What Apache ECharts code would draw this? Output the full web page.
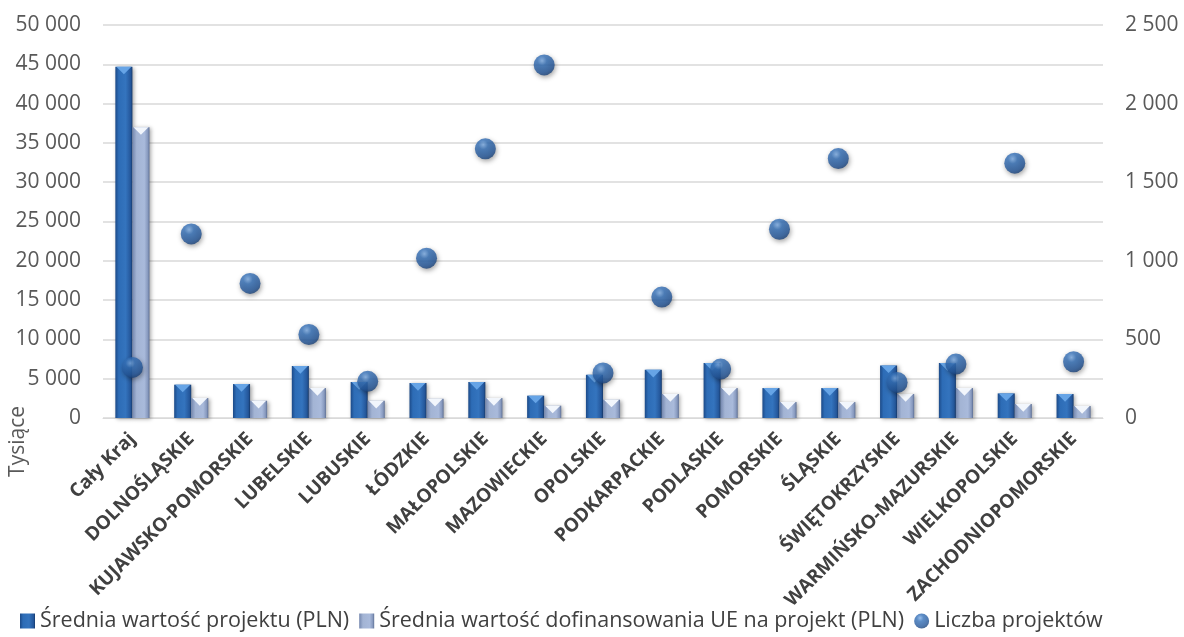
<!DOCTYPE html>
<html>
<head>
<meta charset="utf-8">
<script src="https://cdn.jsdelivr.net/npm/echarts@6/dist/echarts.min.js"></script>
<style>
html,body{margin:0;padding:0;background:#fff;}
#chart{width:1184px;height:637px;}
</style>
</head>
<body>
<div id="chart"></div>
<script>
const categories = ['Cały Kraj','DOLNOŚLĄSKIE','KUJAWSKO-POMORSKIE','LUBELSKIE','LUBUSKIE','ŁÓDZKIE','MAŁOPOLSKIE','MAZOWIECKIE','OPOLSKIE','PODKARPACKIE','PODLASKIE','POMORSKIE','ŚLĄSKIE','ŚWIĘTOKRZYSKIE','WARMIŃSKO-MAZURSKIE','WIELKOPOLSKIE','ZACHODNIOPOMORSKIE'];
const sredniaWartosc = [44700,4240,4320,6610,4580,4450,4580,2840,5500,6140,6990,3810,3810,6690,6990,3130,3050];
const sredniaDofinansowania = [37000,2540,2200,3810,2200,2450,2540,1570,2330,3050,3810,2030,2030,3050,3810,1780,1530];
const liczbaProjektow = [322,1171,856,531,233,1017,1712,2246,286,769,311,1201,1650,226,343,1621,358];
const seriesNames = ['Średnia wartość projektu (PLN)','Średnia wartość dofinansowania UE na projekt (PLN)','Liczba projektów'];

const fmt = v => String(v).replace(/\B(?=(\d{3})+(?!\d))/g, ' ');
const FONT = 'Open Sans';

const darkGrad = {type:'linear',x:0,y:0,x2:1,y2:0,colorStops:[
  {offset:0,color:'#1c4a88'},{offset:0.2,color:'#2d6cb6'},{offset:0.6,color:'#3474be'},{offset:0.9,color:'#24569a'},{offset:1,color:'#163a6c'}]};
const lightGrad = {type:'linear',x:0,y:0,x2:1,y2:0,colorStops:[
  {offset:0,color:'#7487ae'},{offset:0.25,color:'#a3b4d4'},{offset:0.7,color:'#a9badb'},{offset:0.9,color:'#8799be'},{offset:1,color:'#5d6f94'}]};

function barRender(side, grad, tipColor){
  return function(params, api){
    const i = api.value(0);
    const v = api.value(1);
    const base = api.coord([i, 0]);
    const top = api.coord([i, v]);
    const cw = api.size([1, 0])[0];
    const w = cw * 0.29;
    const x = side === 0 ? base[0] - w : base[0];
    const h = base[1] - top[1];
    const tri = Math.min(w * 0.45, h);
    return {
      type:'group',
      children:[
        {type:'rect', shape:{x:x, y:top[1], width:w, height:h},
          style:{fill:grad, shadowBlur:4, shadowColor:'rgba(0,0,0,0.35)', shadowOffsetX:1.5, shadowOffsetY:1}},
        {type:'polygon', shape:{points:[[x+1,top[1]],[x+w-1,top[1]],[x+w/2,top[1]+tri]]},
          style:{fill:tipColor}}
      ]
    };
  };
}

const chart = echarts.init(document.getElementById('chart'), null, {renderer:'canvas'});
const option = {
  animation:false,
  backgroundColor:'#ffffff',
  textStyle:{fontFamily:FONT},
  grid:{left:103, right:81, top:25, bottom:219, containLabel:false},
  legend:{
    bottom:0, left:15, itemGap:10, itemWidth:15, itemHeight:15,
    textStyle:{fontFamily:FONT, fontSize:21.5, color:'#404040'},
    data:[
      {name:seriesNames[0], icon:'rect', itemStyle:{color:darkGrad}},
      {name:seriesNames[1], icon:'rect', itemStyle:{color:lightGrad}},
      {name:seriesNames[2], icon:'circle'}
    ]
  },
  xAxis:{
    type:'category', data:categories,
    axisLine:{show:true, lineStyle:{color:'#d9d9d9', width:1}},
    axisTick:{show:false},
    axisLabel:{interval:0, rotate:45, fontFamily:FONT, fontWeight:'bold', fontSize:19, color:'#404040', margin:18}
  },
  yAxis:[
    {type:'value', min:0, max:50000, interval:5000,
      axisLabel:{formatter:fmt, fontFamily:FONT, fontSize:21, color:'#595959', margin:22},
      splitLine:{lineStyle:{color:'#d9d9d9', width:1.5}},
      axisLine:{show:false}, axisTick:{show:false}},
    {type:'value', min:0, max:2500, interval:500, position:'right',
      axisLabel:{formatter:fmt, fontFamily:FONT, fontSize:21, color:'#595959', margin:22},
      splitLine:{show:false}, axisLine:{show:false}, axisTick:{show:false}}
  ],
  graphic:[{type:'text', left:8, top:406, rotation:Math.PI/2,
    style:{text:'Tysiące', font:'21px "Open Sans"', fill:'#595959'}}],
  series:[
    {name:seriesNames[0], type:'custom', yAxisIndex:0, renderItem:barRender(0, darkGrad, '#66a4e6'),
      itemStyle:{color:darkGrad}, encode:{x:0, y:1},
      data:sredniaWartosc.map((v,i)=>[i,v])},
    {name:seriesNames[1], type:'custom', yAxisIndex:0, renderItem:barRender(1, lightGrad, '#f2f6fc'),
      itemStyle:{color:lightGrad}, encode:{x:0, y:1},
      data:sredniaDofinansowania.map((v,i)=>[i,v])},
    {name:seriesNames[2], type:'scatter', yAxisIndex:1, symbol:'circle', symbolSize:21, z:5,
      itemStyle:{
        color:{type:'radial', x:0.4, y:0.3, r:0.75, colorStops:[
          {offset:0,color:'#7eaee6'},{offset:0.3,color:'#3470b8'},{offset:0.75,color:'#24579a'},{offset:1,color:'#173c70'}]},
        shadowBlur:5, shadowColor:'rgba(0,0,0,0.45)', shadowOffsetX:1, shadowOffsetY:2
      },
      data:liczbaProjektow}
  ]
};
chart.setOption(option);
</script>
</body>
</html>
